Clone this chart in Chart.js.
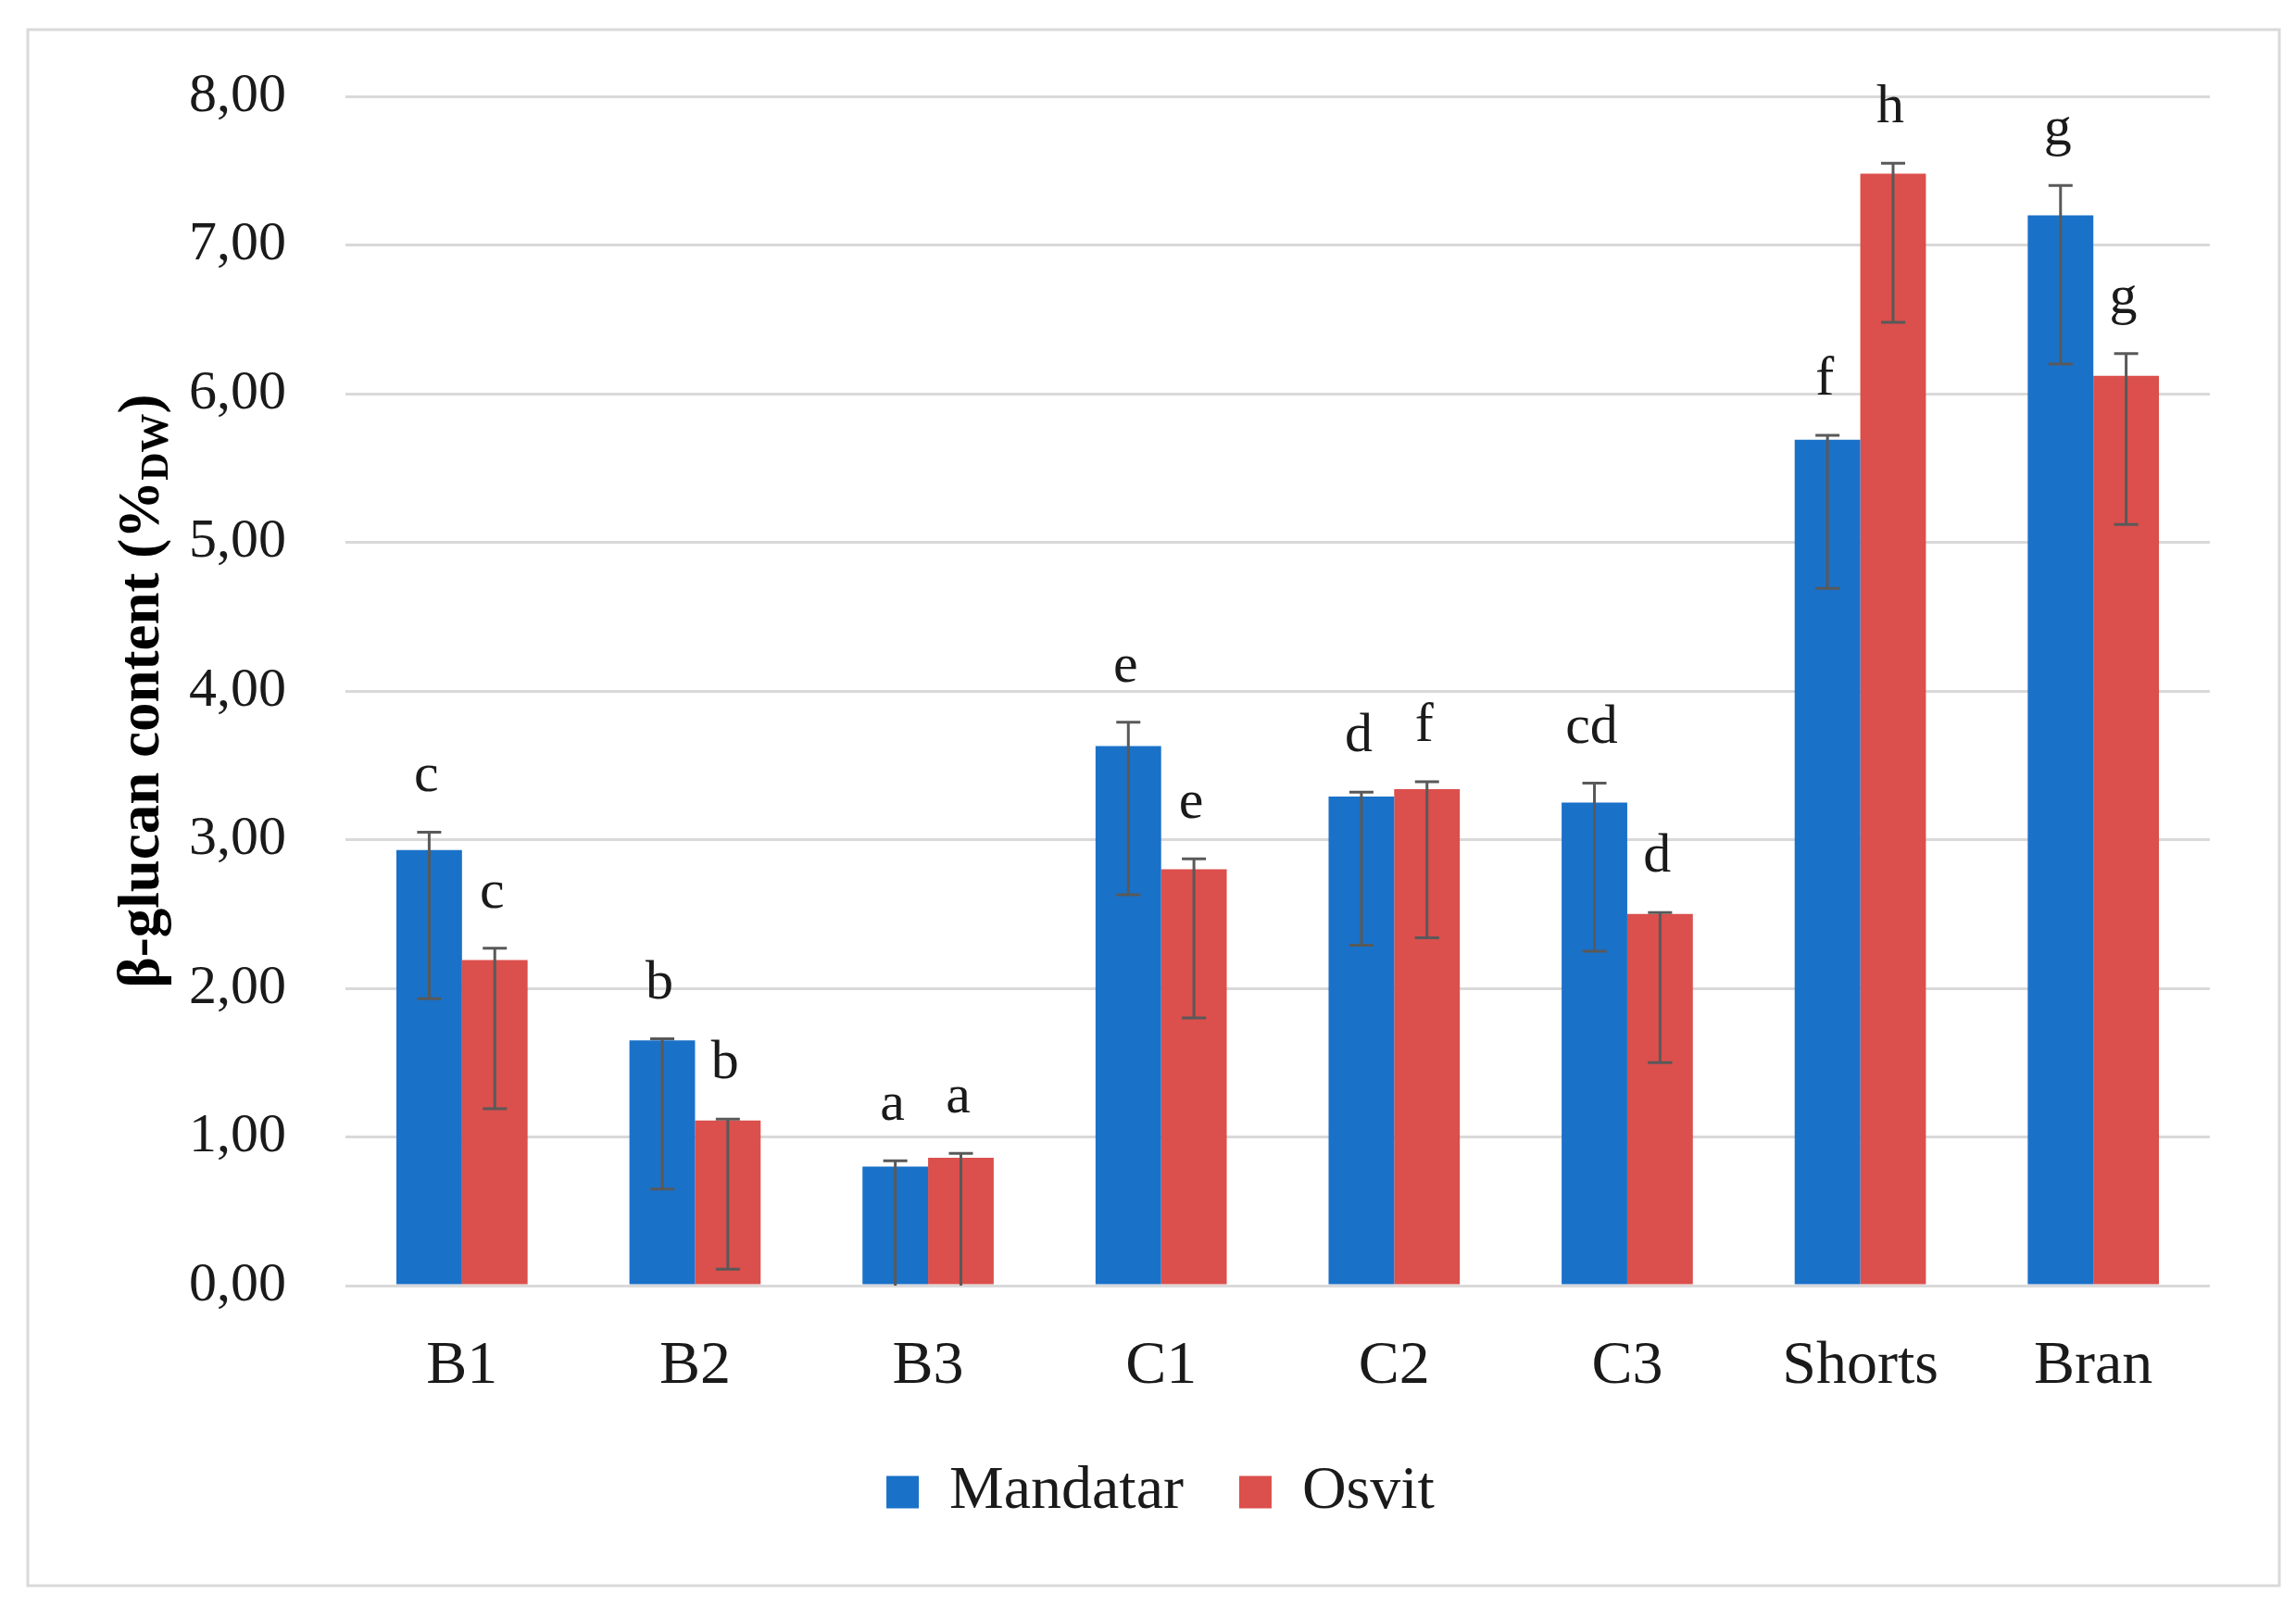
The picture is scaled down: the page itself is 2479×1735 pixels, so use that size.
<!DOCTYPE html>
<html>
<head>
<meta charset="utf-8">
<title>beta-glucan content</title>
<script src="https://cdn.jsdelivr.net/npm/chart.js@4/dist/chart.umd.min.js"></script>
<style>
    html, body { margin: 0; padding: 0; background: #fff; }
    #wrap { width: 2479px; height: 1735px; position: relative; }
</style>
</head>
<body>
<div id="wrap"><canvas id="chart"></canvas></div>
<script>
// Data
const categories = ['B1', 'B2', 'B3', 'C1', 'C2', 'C3', 'Shorts', 'Bran'];

const mandatar = [2.93, 1.65, 0.80, 3.63, 3.29, 3.25, 5.69, 7.20];
const mandatarErrUp = [0.12, 0.01, 0.04, 0.16, 0.03, 0.13, 0.03, 0.20];
const mandatarErrDown = [1.00, 1.00, 1.00, 1.00, 1.00, 1.00, 1.00, 1.00];
const mandatarLetters = ['c', 'b', 'a', 'e', 'd', 'cd', 'f', 'g'];

const osvit = [2.19, 1.11, 0.86, 2.80, 3.34, 2.50, 7.48, 6.12];
const osvitErrUp = [0.08, 0.01, 0.03, 0.07, 0.05, 0.01, 0.07, 0.15];
const osvitErrDown = [1.00, 1.00, 1.00, 1.00, 1.00, 1.00, 1.00, 1.00];
const osvitLetters = ['c', 'b', 'a', 'e', 'f', 'd', 'h', 'g'];

const yMin = 0;
const yMax = 8;
const yStep = 1;

const SERIF = '"Liberation Serif", "DejaVu Serif", serif';
const TEXT = '#1a1a1a';

// frame round the whole figure
const framePlugin = {
    id: 'frame',
    beforeDraw: function(chart) {
        const ctx = chart.ctx;
        ctx.save();
        ctx.fillStyle = '#ffffff';
        ctx.fillRect(0, 0, chart.width, chart.height);
        ctx.strokeStyle = '#d9d9d9';
        ctx.lineWidth = 3;
        ctx.strokeRect(30, 32, 2431, 1680);
        ctx.restore();
    }
};

// nudge the legend a bit right, like in the original
const legendShift = {
    id: 'legendShift',
    afterLayout: function(chart) {
        if (chart.legend) {
            chart.legend.left += 60;
            chart.legend.right += 60;
        }
    }
};

// error bars + significance letters
const errorBarPlugin = {
    id: 'errorBars',
    afterDatasetsDraw: function(chart) {
        const ctx = chart.ctx;
        const yScale = chart.scales.y;
        const area = chart.chartArea;

        chart.data.datasets.forEach(function(ds, di) {
            const meta = chart.getDatasetMeta(di);
            meta.data.forEach(function(bar, i) {
                const v = ds.data[i];
                const yTop = yScale.getPixelForValue(v + ds.errUp[i]);
                const yBot = yScale.getPixelForValue(v - ds.errDown[i]);
                const half = 13;

                ctx.save();
                ctx.beginPath();
                ctx.rect(area.left, area.top - 40, area.right - area.left, area.bottom - area.top + 40);
                ctx.clip();
                ctx.strokeStyle = '#595959';
                ctx.lineWidth = 3;
                ctx.beginPath();
                ctx.moveTo(bar.x, yTop);
                ctx.lineTo(bar.x, yBot);
                ctx.moveTo(bar.x - half, yTop);
                ctx.lineTo(bar.x + half, yTop);
                ctx.moveTo(bar.x - half, yBot);
                ctx.lineTo(bar.x + half, yBot);
                ctx.stroke();
                ctx.restore();

                ctx.save();
                ctx.fillStyle = TEXT;
                ctx.font = '60px ' + SERIF;
                ctx.textAlign = 'center';
                ctx.textBaseline = 'alphabetic';
                ctx.fillText(ds.letters[i], bar.x - 3, yTop - 44);
                ctx.restore();
            });
        });
    }
};

// y-axis title with subscript
const yTitlePlugin = {
    id: 'yTitle',
    afterDraw: function(chart) {
        const ctx = chart.ctx;
        const area = chart.chartArea;
        const main = 'β-glucan content (%';
        const sub = 'DW';
        const close = ')';
        const bigFont = 'bold 63px ' + SERIF;
        const smallFont = 'bold 42px ' + SERIF;

        ctx.save();
        ctx.font = bigFont;
        const w1 = ctx.measureText(main).width;
        const w3 = ctx.measureText(close).width;
        ctx.font = smallFont;
        const w2 = ctx.measureText(sub).width;
        const total = w1 + w2 + w3;

        ctx.translate(155, (area.top + area.bottom) / 2);
        ctx.rotate(-Math.PI / 2);
        ctx.fillStyle = '#000';
        ctx.textBaseline = 'middle';
        ctx.textAlign = 'left';
        let x = -total / 2;
        ctx.font = bigFont;
        ctx.fillText(main, x, 0);
        x += w1;
        ctx.font = smallFont;
        ctx.fillText(sub, x, 15);
        x += w2;
        ctx.font = bigFont;
        ctx.fillText(close, x, 0);
        ctx.restore();
    }
};

const ctx = document.getElementById('chart');

new Chart(ctx, {
    type: 'bar',
    data: {
        labels: categories,
        datasets: [{
            label: 'Mandatar',
            data: mandatar,
            errUp: mandatarErrUp,
            errDown: mandatarErrDown,
            letters: mandatarLetters,
            backgroundColor: '#1a71c8',
            borderWidth: 0
        }, {
            label: 'Osvit',
            data: osvit,
            errUp: osvitErrUp,
            errDown: osvitErrDown,
            letters: osvitLetters,
            backgroundColor: '#db4f4c',
            borderWidth: 0
        }]
    },
    options: {
        responsive: true,
        maintainAspectRatio: false,
        devicePixelRatio: 1,
        animation: false,
        categoryPercentage: 0.563,
        barPercentage: 1.0,
        layout: {
            padding: { left: 0, right: 93, top: 104, bottom: 81 }
        },
        plugins: {
            tooltip: { enabled: false },
            legend: {
                position: 'bottom',
                labels: {
                    font: { family: SERIF, size: 66 },
                    color: TEXT,
                    boxWidth: 35,
                    boxHeight: 35,
                    padding: 60
                }
            }
        },
        scales: {
            x: {
                grid: { display: false },
                border: { display: false },
                ticks: {
                    font: { family: SERIF, size: 66 },
                    color: TEXT,
                    padding: 40
                },
                afterFit: function(scale) { scale.height = 130; }
            },
            y: {
                min: yMin,
                max: yMax,
                grid: { color: '#d9d9d9', lineWidth: 3, drawTicks: false },
                border: { display: false },
                ticks: {
                    stepSize: yStep,
                    font: { family: SERIF, size: 60 },
                    color: TEXT,
                    padding: 64,
                    callback: function(value) {
                        return value.toFixed(2).replace('.', ',');
                    }
                },
                afterFit: function(scale) { scale.width = 373; }
            }
        }
    },
    plugins: [framePlugin, legendShift, errorBarPlugin, yTitlePlugin]
});
</script>
</body>
</html>
